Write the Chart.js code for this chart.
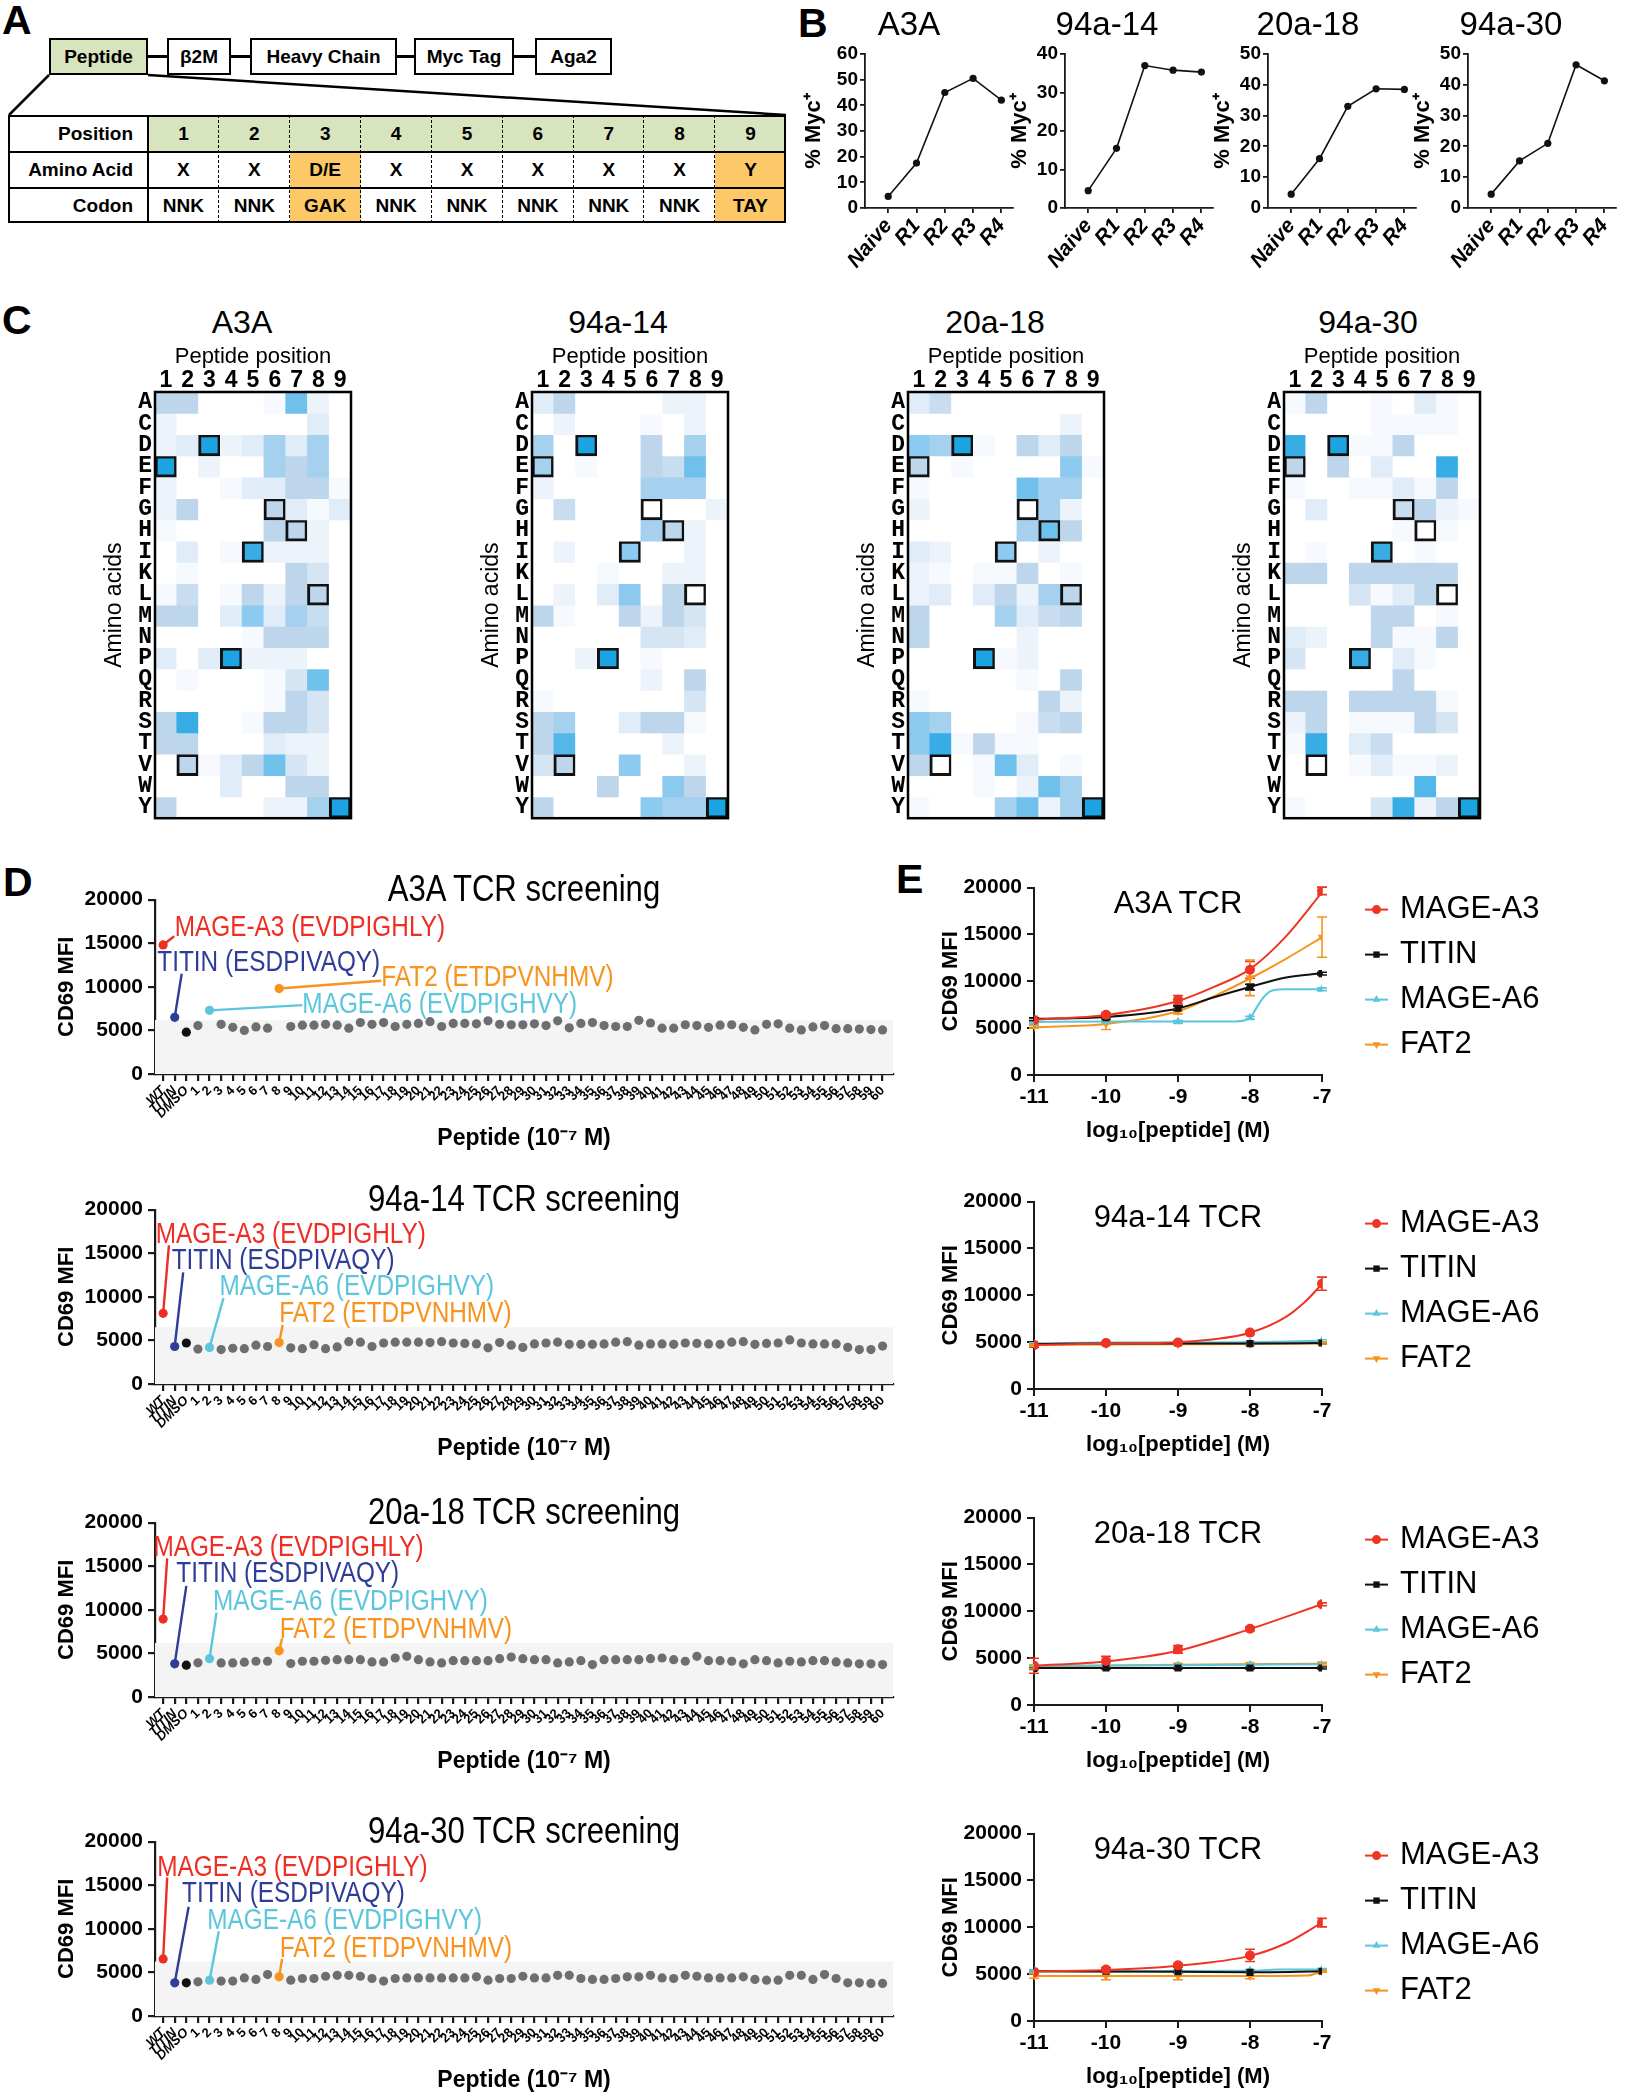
<!DOCTYPE html>
<html>
<head>
<meta charset="utf-8">
<title>TCR peptide library figure</title>
<script src="https://cdn.jsdelivr.net/npm/chart.js@4.4.1/dist/chart.umd.min.js"></script>
<style>
  html, body { margin:0; padding:0; background:#fff; }
  body { width:1626px; height:2100px; position:relative; overflow:hidden; font-family:'Liberation Sans', Arial, sans-serif; color:#000; }
  canvas { position:absolute; }
  .letter { position:absolute; font-weight:bold; font-size:41px; line-height:1; }
  .ttl { position:absolute; transform:translate(-50%,-50%); white-space:nowrap; line-height:1; }
  .abox { position:absolute; box-sizing:border-box; border:2.5px solid #000; background:#fff; display:flex; align-items:center; justify-content:center; font-weight:bold; font-size:19px; }
  .blk { position:absolute; background:#000; }
  .cell { position:absolute; box-sizing:border-box; display:flex; align-items:center; justify-content:center; font-weight:bold; font-size:19px; }
</style>
</head>
<body>
<svg width="800" height="130" style="position:absolute;left:0;top:0">
  <line x1="49" y1="75" x2="9" y2="115" stroke="#000" stroke-width="2.5"/>
  <line x1="148" y1="75" x2="786" y2="115" stroke="#000" stroke-width="2.5"/>
</svg>
<script>
// ======================= DATA =======================
// Panel A
const A_BLOCKS = ['Peptide', 'β2M', 'Heavy Chain', 'Myc Tag', 'Aga2'];
const A_ROW_NAMES = ['Position', 'Amino Acid', 'Codon'];
const A_POSITIONS = ['1','2','3','4','5','6','7','8','9'];
const A_AMINO = ['X','X','D/E','X','X','X','X','X','Y'];
const A_CODON = ['NNK','NNK','GAK','NNK','NNK','NNK','NNK','NNK','TAY'];
const A_FIXED = [false,false,true,false,false,false,false,false,true];

// Panel B (% Myc+ per selection round)
const B_TCRS = ['A3A','94a-14','20a-18','94a-30'];
const B_ROUNDS = ['Naive','R1','R2','R3','R4'];
const B_A3A   = [4.5, 17.5, 45.0, 50.5, 42.0];
const B_94A14 = [4.5, 15.5, 37.0, 35.8, 35.3];
const B_20A18 = [4.5, 16.0, 33.0, 38.7, 38.5];
const B_94A30 = [4.5, 15.3, 21.0, 46.5, 41.3];
const B_YMAX  = [60, 40, 50, 50];
const B_YSTEP = 10;

// Panel C (enrichment level 0-6; rows = amino acids, columns = positions 1-9)
const AMINO = ['A','C','D','E','F','G','H','I','K','L','M','N','P','Q','R','S','T','V','W','Y'];
const POSITIONS = ['1','2','3','4','5','6','7','8','9'];
const WT_PEPTIDE = ['E','V','D','P','I','G','H','L','Y'];
const HM_A3A = [
  [3,3,0,0,0,0.5,4.5,1,0],
  [1,0,0,0,0,0,0,1.5,0],
  [1,1.5,6,1,1.5,3.5,1.5,3.5,0],
  [6,0,1,0,0,3.5,3,3.5,0],
  [1,0,0,0.5,1.5,1.5,3,3,0.5],
  [1,3,0,0,0,3,1.5,0.5,1.5],
  [0.5,0,0,0,0,3,3,1,0],
  [0,1.5,0,0.5,5.5,1,1,1,0],
  [0,0.5,0,0,0,0,3,2,0],
  [0.5,2.5,0,0.5,3,1,3,3,0],
  [3,3,0,1.5,4,1.5,3.5,2.5,0],
  [0,0,0,0,0.5,3,3,3,0],
  [1.5,0,1.5,6,1,1,1,0,0],
  [0,0.5,0,0,0,0.5,2,4.5,0],
  [0,0,0,0,0,0.5,3,2,0],
  [3,5.5,0,0,0.5,3,3,2,0],
  [3,3,0,0,0,1.5,1,1,0],
  [0,3,0.5,1.5,3,4.5,2,1,0],
  [0,0,0,1.5,0,0,3,3,0],
  [3,0,0,0,0,1,1,3.5,6]
];
const HM_94A14 = [
  [1.5,3,0,0,0,0,1,1,0],
  [0,1,0,0,0,0.5,0,1,0],
  [3.5,0,6,0,0,3,0,3.5,0],
  [3.5,0,0.5,0,0,3,2.5,4.5,0],
  [1,0,0,0,0,3.5,3.5,3.5,0],
  [0,2.5,0,0,0,0,0,0,1],
  [0,0,0,0,0,3.5,3,1,0],
  [0,1,0,0,4,0,0,1,0],
  [0,0,0,0.5,0,0,1,1,0],
  [0,1,0,1.5,4,0,3,0,0],
  [3,0.5,0,0,3,1,3,2,0],
  [0,0,0,0,0,2,2,1.5,0],
  [0,0,1,6,0,0.5,0,0,0],
  [0,0,0,0,0,1,0,3,0],
  [0.5,0,0,0,0,0,0,2,0],
  [3,3.5,0,0,1.5,3,3,0.5,0],
  [3,5,0,0,0,0,1,0,0],
  [2,3,0,0,4,0,0,1,0],
  [0,0,0,3,0,0,4,3,0],
  [3,0,0,0,0,4,3.5,3.5,6]
];
const HM_20A18 = [
  [1.5,2.5,0,0,0,0,0,0,0],
  [0,0,0,0,0,0,0,1,0],
  [4,3.5,6,0.5,0,3,1.5,3,0],
  [3,0,0.5,0,0,0,0,4,0.5],
  [0.5,0,0,0,0,4.5,3.5,3.5,0],
  [1,0,0,0,0,0,3.5,1,0],
  [0,0,0,0,0,3.5,4.5,3,0],
  [1.5,1,0,0,4,0,1,0,0],
  [1,0.5,0,0.5,0.5,3,0,0.5,0],
  [1,1.5,0,1.5,3,1,3.5,3,0],
  [3,0,0,0,3.5,1.5,2.5,3,0],
  [3,0,0,0,0,1,0,0,0],
  [0,0,0,6,0.5,1,0,0,0],
  [0,0,0,0,0,0.5,0,3,0],
  [0.5,0,0,0,0,0,3,1,0],
  [4,3.5,0,0,0,0.5,2.5,3,0],
  [4,5.5,0.5,3,0.5,0.5,0,0,0],
  [3,0,0,0.5,4.5,1.5,0,0.5,0],
  [0,0,0,0.5,0,1,4.5,3.5,0],
  [0.5,0,0,0,3.5,4.5,1,3.5,6]
];
const HM_94A30 = [
  [0.5,3,0,0,0.5,0,1.5,0.5,0],
  [0,0,0,0,0.5,0.5,0.5,0.5,0],
  [5.5,0,6,0.5,0.5,3,0,0,0],
  [3,0,3,0,1.5,0,0,5.5,0],
  [0.5,0,0,0.5,0.5,1.5,0.5,3,0],
  [0,1.5,0,0,0,2.5,3,1,0.5],
  [0,0,0,0,0,0.5,0,0.5,0],
  [0,0.5,0,0,5.5,0,0.5,0,0],
  [3,3,0,3,3,3,3,3,0],
  [0,0,0,2,0.5,1.5,3,0,0],
  [0,0,0,0,3,3,0,0.5,0],
  [1.5,1,0,0,3,0.5,0.5,3,0],
  [2,0,0,5.5,0,1.5,0.5,0,0],
  [0,0,0,0,0,3,0,0,0],
  [3,3,0,3,3,3,3,0.5,0],
  [1,3,0,0.5,0.5,0.5,3,2,0],
  [0.5,5.5,0,1.5,2.5,0,0,0,0],
  [0,0,0,0.5,1.5,0.5,0.5,1,0],
  [0,0,0,0,0,0,5,0,0],
  [0.5,0,0,0,2,5.5,1,3,6]
];

// Panel D (CD69 MFI, one value per peptide)
const D_LABELS = ['WT','TITIN','DMSO'].concat(Array.from({length:60}, (_, i) => String(i + 1)));
const D_A3A = [14800,6500,4800,5550,7300,5700,5350,5000,5400,5250,9800,5450,5600,5600,5700,5600,5250,5900,5700,5900,5450,5700,5800,6000,5450,5800,5800,5750,6100,5700,5650,5650,5750,5550,6100,5300,5800,5900,5550,5450,5450,6150,5850,5250,5250,5650,5550,5350,5600,5650,5350,5050,5700,5750,5250,5050,5400,5550,5200,5200,5150,5100,5050];
const D_94A14 = [8100,4300,4700,4000,4200,3950,4100,4050,4450,4300,4750,4150,4050,4500,4050,4250,4850,4800,4300,4700,4800,4800,4800,4750,4850,4700,4650,4600,4150,4750,4450,4200,4600,4700,4800,4550,4550,4550,4600,4800,4850,4450,4600,4600,4550,4700,4650,4600,4550,4800,4850,4550,4650,4700,5050,4700,4600,4600,4600,4200,3950,3950,4350];
const D_20A18 = [8940,3800,3650,3920,4400,3910,3910,3990,4100,4100,5290,3840,4100,4100,4210,4280,4280,4280,4020,4020,4470,4660,4280,4020,3910,4170,4170,4170,4170,4390,4580,4390,4280,4280,3910,4020,4170,3720,4280,4280,4280,4280,4390,4470,4280,4100,4660,4170,4170,4100,3800,4280,4170,3910,4100,4020,4170,4170,4020,3910,3800,3800,3720];
const D_94A30 = [6540,3810,3810,3920,4110,4000,4000,4370,4190,4750,4490,4110,4300,4300,4560,4670,4670,4560,4300,4000,4300,4370,4370,4370,4370,4370,4370,4490,4110,4300,4300,4560,4370,4370,4670,4670,4300,4190,4190,4300,4490,4490,4670,4370,4300,4670,4560,4370,4370,4370,4490,4190,4110,4110,4670,4670,4190,4750,4300,3810,3810,3740,3740];
const D_BAND = [6200, 6500, 6200, 6250];
const D_MARKED_INDEX = [0, 1, 2, 4, 10];
const D_MARKED_NAME = ['MAGE-A3', 'TITIN', 'DMSO', 'MAGE-A6', 'FAT2'];
const D_MARKED_PEPTIDE = ['EVDPIGHLY', 'ESDPIVAQY', '', 'EVDPIGHVY', 'ETDPVNHMV'];
const D_TITLES = ['A3A TCR screening', '94a-14 TCR screening', '20a-18 TCR screening', '94a-30 TCR screening'];

// Panel E (CD69 MFI vs log10 peptide concentration)
const E_X = [-11, -10, -9, -8, -7];
const E_NAMES = ['MAGE-A3', 'TITIN', 'MAGE-A6', 'FAT2'];
const E_TITLES = ['A3A TCR', '94a-14 TCR', '20a-18 TCR', '94a-30 TCR'];
const E1_MAGEA3 = [5840, 6430, 8030, 11230, 19650];
const E1_TITIN  = [5950, 6120, 7130, 9390, 10820];
const E1_MAGEA6 = [5500, 5670, 5670, 6120, 9150];
const E1_FAT2   = [5150, 5500, 6820, 10370, 14710];
const E1_ERR_MAGEA3 = [250, 200, 450, 900, 400];
const E1_ERR_TITIN  = [150, 150, 250, 300, 150];
const E1_ERR_MAGEA6 = [100, 100, 150, 150, 150];
const E1_ERR_FAT2   = [150, 650, 300, 1900, 2150];
const E1_FIT_MAGEA3 = [[-11,5900],[-10,6400],[-9,7900],[-8.5,9400],[-8,11300],[-7.5,14800],[-7,19500]];
const E1_FIT_TITIN  = [[-11,6000],[-10,6200],[-9,7100],[-8.5,8300],[-8,9400],[-7.5,10400],[-7,10850]];
const E1_FIT_MAGEA6 = [[-11,5650],[-10,5700],[-9,5700],[-8.2,5720],[-8,6100],[-7.9,7300],[-7.8,8400],[-7.7,9000],[-7.5,9150],[-7,9150]];
const E1_FIT_FAT2   = [[-11,5100],[-10,5450],[-9,6800],[-8.5,8400],[-8,10300],[-7.5,12400],[-7,14700]];

const E2_MAGEA3 = [4660, 4900, 4970, 6020, 11240];
const E2_TITIN  = [4780, 4900, 4900, 4840, 4900];
const E2_MAGEA6 = [4840, 4970, 4970, 4970, 5150];
const E2_FAT2   = [4660, 4780, 4780, 4840, 4900];
const E2_ERR_MAGEA3 = [200, 150, 150, 200, 700];
const E2_ERR_TITIN  = [100, 100, 100, 100, 100];
const E2_ERR_MAGEA6 = [100, 100, 100, 100, 100];
const E2_ERR_FAT2   = [100, 100, 100, 100, 100];
const E2_FIT_MAGEA3 = [[-11,4700],[-10,4850],[-9,5000],[-8.5,5300],[-8,6000],[-7.5,7700],[-7.25,9200],[-7,11200]];
const E2_FIT_TITIN  = [[-11,4800],[-10,4850],[-9,4850],[-8,4850],[-7,4900]];
const E2_FIT_MAGEA6 = [[-11,4850],[-10,4950],[-9,4950],[-8,5000],[-7,5150]];
const E2_FIT_FAT2   = [[-11,4700],[-10,4750],[-9,4780],[-8,4800],[-7,4850]];

const E3_MAGEA3 = [4190, 4690, 5940, 8130, 10750];
const E3_TITIN  = [3900, 3950, 3950, 3950, 3950];
const E3_MAGEA6 = [4200, 4250, 4250, 4300, 4350];
const E3_FAT2   = [4000, 4200, 4300, 4350, 4400];
const E3_ERR_MAGEA3 = [800, 500, 400, 200, 150];
const E3_ERR_TITIN  = [100, 100, 100, 100, 100];
const E3_ERR_MAGEA6 = [100, 100, 100, 100, 100];
const E3_ERR_FAT2   = [150, 100, 100, 100, 150];
const E3_FIT_MAGEA3 = [[-11,4200],[-10,4650],[-9,5800],[-8,8100],[-7,10750]];
const E3_FIT_TITIN  = [[-11,3950],[-7,3950]];
const E3_FIT_MAGEA6 = [[-11,4200],[-9,4250],[-7,4350]];
const E3_FIT_FAT2   = [[-11,4100],[-9,4300],[-7,4400]];

const E4_MAGEA3 = [5190, 5500, 5940, 7000, 10500];
const E4_TITIN  = [5310, 5310, 5250, 5190, 5310];
const E4_MAGEA6 = [5300, 5350, 5400, 5400, 5500];
const E4_FAT2   = [4810, 4810, 4810, 4810, 5300];
const E4_ERR_MAGEA3 = [150, 200, 200, 650, 450];
const E4_ERR_TITIN  = [100, 100, 100, 100, 100];
const E4_ERR_MAGEA6 = [100, 100, 100, 100, 100];
const E4_ERR_FAT2   = [250, 400, 400, 300, 100];
const E4_FIT_MAGEA3 = [[-11,5300],[-10,5450],[-9,5900],[-8,6950],[-7.5,8300],[-7,10500]];
const E4_FIT_TITIN  = [[-11,5300],[-9,5250],[-8,5200],[-7,5300]];
const E4_FIT_MAGEA6 = [[-11,5300],[-8,5350],[-7.6,5500],[-7,5500]];
const E4_FIT_FAT2   = [[-11,4800],[-8,4800],[-7.2,4850],[-7,5300]];

// ======================= STYLE / LAYOUT =======================
function hasFont(name) {
  const c = document.createElement('canvas').getContext('2d');
  const s = 'abcdefghijklmnopqrstuvwxyz MAGE-A3 0123456789';
  c.font = '40px monospace'; const a = c.measureText(s).width;
  c.font = '40px "' + name + '", monospace'; const b = c.measureText(s).width;
  return Math.abs(a - b) > 1;
}
const FAM = "'Liberation Sans', Arial, Helvetica, sans-serif";
const HAS_NARROW = hasFont('Liberation Sans Narrow');
const NFAM = HAS_NARROW ? "'Liberation Sans Narrow', 'Liberation Sans', sans-serif" : FAM;
const NSCALE = HAS_NARROW ? 1 : 0.84;   // horizontal squeeze that imitates a narrow face
const MONO = "'Liberation Mono', 'DejaVu Sans Mono', monospace";

const GREEN = '#d7e4bd', ORANGE = '#fcc868', AX = '#1a1a1a';
const D_COLORS = { 'MAGE-A3': '#ee2e24', 'TITIN': '#2e3d98', 'DMSO': '#111111', 'MAGE-A6': '#5cc6dc', 'FAT2': '#f7931e' };
const D_GREY = '#6d6e71';
const E_COLORS = ['#ee3524', '#111111', '#5bc6dc', '#f7941d'];
const E_STYLE = ['circle', 'rect', 'triangle', 'triangle'];
const E_ROT = [0, 0, 0, 180];
const HEAT_STOPS = [[0,[255,255,255]],[1,[236,243,250]],[3,[189,214,236]],[4,[140,202,239]],[6,[28,163,226]]];

Chart.defaults.animation = false;
Chart.defaults.responsive = false;
Chart.defaults.maintainAspectRatio = false;
Chart.defaults.font.family = FAM;
Chart.defaults.color = '#000';
Chart.defaults.plugins.legend.display = false;
Chart.defaults.plugins.tooltip.enabled = false;
Chart.defaults.events = [];

function el(tag, cls, css, text) {
  const d = document.createElement(tag);
  if (cls) d.className = cls;
  if (css) d.style.cssText = css;
  if (text != null) d.textContent = text;
  document.body.appendChild(d);
  return d;
}
function ttl(text, cx, cy, size, extra) {
  return el('div', 'ttl', 'left:' + cx + 'px;top:' + cy + 'px;font-size:' + size + 'px;' + (extra || ''), text);
}
function makeCanvas(area, box) {
  const w = box.pl + box.yW + (area.r - area.l) + box.pr;
  const h = box.pt + box.xH + (area.b - area.t) + box.pb;
  const left = area.l - box.yW - box.pl;
  const top = area.t - box.pt - (box.xTop ? box.xH : 0);
  const c = document.createElement('canvas');
  c.width = w; c.height = h;
  c.style.left = left + 'px'; c.style.top = top + 'px';
  c.style.width = w + 'px'; c.style.height = h + 'px';
  document.body.appendChild(c);
  return c;
}
function pad(box) {
  return { padding: { left: box.pl, right: box.pr, top: box.pt, bottom: box.pb }, autoPadding: false };
}
function axisStyle(tl, lw) {
  return {
    grid: { display: true, drawOnChartArea: false, drawTicks: true, tickLength: tl, color: AX, lineWidth: lw || 2 },
    border: { display: true, color: AX, width: lw || 2 }
  };
}
function heatColor(v) {
  const S = HEAT_STOPS;
  for (let i = 1; i < S.length; i++) {
    if (v <= S[i][0]) {
      const a = S[i-1][0], ca = S[i-1][1], b = S[i][0], cb = S[i][1];
      const t = (v - a) / (b - a);
      return 'rgb(' + ca.map((c, j) => Math.round(c + (cb[j] - c) * t)).join(',') + ')';
    }
  }
  return 'rgb(' + S[S.length-1][1].join(',') + ')';
}
function stepTicks(max, step) {
  const out = [];
  for (let v = 0; v <= max + 1e-9; v += step) out.push({ value: v });
  return out;
}

// ---------- plugins ----------
const framePlugin = {
  id: 'frame',
  afterDatasetsDraw(chart) {
    const { ctx, chartArea: a } = chart;
    ctx.save(); ctx.strokeStyle = '#000'; ctx.lineWidth = 2.5;
    ctx.strokeRect(a.left, a.top, a.right - a.left, a.bottom - a.top);
    ctx.restore();
  }
};
const leaderPlugin = {
  id: 'leaders',
  afterDatasetsDraw(chart, args, opts) {
    const { ctx } = chart; const x = chart.scales.x, y = chart.scales.y;
    (opts.items || []).forEach(it => {
      ctx.save();
      ctx.strokeStyle = it.color; ctx.lineWidth = 2.4;
      ctx.beginPath();
      ctx.moveTo(x.getPixelForValue(it.x0), y.getPixelForValue(it.y0));
      ctx.lineTo(x.getPixelForValue(it.x1), y.getPixelForValue(it.y1));
      ctx.stroke();
      ctx.fillStyle = it.color; ctx.font = opts.font; ctx.textBaseline = 'middle'; ctx.textAlign = 'left';
      const tx = x.getPixelForValue(it.tx), ty = y.getPixelForValue(it.ty);
      ctx.translate(tx, ty); ctx.scale(opts.squeeze, 1);
      ctx.fillText(it.text, 0, 0);
      ctx.restore();
    });
  }
};
const errPlugin = {
  id: 'errbars',
  beforeDatasetsDraw(chart) {
    const { ctx } = chart; const ys = chart.scales.y;
    chart.data.datasets.forEach((ds, i) => {
      if (!ds.errs) return;
      const meta = chart.getDatasetMeta(i);
      ctx.save(); ctx.strokeStyle = ds.borderColor; ctx.lineWidth = 1.6;
      meta.data.forEach((pt, j) => {
        const e = ds.errs[j]; if (!e) return;
        const v = ds.data[j].y;
        const y1 = ys.getPixelForValue(v + e), y2 = ys.getPixelForValue(v - e);
        ctx.beginPath();
        ctx.moveTo(pt.x, y1); ctx.lineTo(pt.x, y2);
        ctx.moveTo(pt.x - 5, y1); ctx.lineTo(pt.x + 5, y1);
        ctx.moveTo(pt.x - 5, y2); ctx.lineTo(pt.x + 5, y2);
        ctx.stroke();
      });
      ctx.restore();
    });
  }
};
const eLegendPlugin = {
  id: 'eleg',
  afterDraw(chart, args, o) {
    const { ctx, chartArea: a } = chart;
    E_NAMES.forEach((name, i) => {
      const y = a.top + o.top + i * o.gap, x0 = a.right + o.dx;
      ctx.save();
      ctx.strokeStyle = E_COLORS[i]; ctx.lineWidth = 2;
      ctx.beginPath(); ctx.moveTo(x0, y); ctx.lineTo(x0 + o.len, y); ctx.stroke();
      ctx.fillStyle = E_COLORS[i];
      Chart.helpers.drawPoint(ctx, { pointStyle: E_STYLE[i], radius: 4.5, rotation: E_ROT[i], borderWidth: 0 }, x0 + o.len / 2, y);
      ctx.fillStyle = '#000'; ctx.font = o.size + 'px ' + FAM; ctx.textBaseline = 'middle';
      ctx.fillText(name, x0 + o.len + o.tgap, y);
      ctx.restore();
    });
  }
};

// ======================= PANEL LETTERS =======================
el('div', 'letter', 'left:2px;top:0px;', 'A');
el('div', 'letter', 'left:798px;top:3px;', 'B');
el('div', 'letter', 'left:2px;top:300px;', 'C');
el('div', 'letter', 'left:3px;top:862px;', 'D');
el('div', 'letter', 'left:896px;top:859px;', 'E');

// ======================= PANEL A =======================
const A_BOX_X = [[49,148],[167,231],[250,397],[414,514],[535,612]];
A_BOX_X.forEach((bx, i) => {
  el('div', 'abox', 'left:' + bx[0] + 'px;top:38px;width:' + (bx[1]-bx[0]) + 'px;height:37px;' + (i === 0 ? 'background:' + GREEN + ';' : ''), A_BLOCKS[i]);
  if (i > 0) {
    const px = A_BOX_X[i-1][1];
    el('div', 'blk', 'left:' + px + 'px;top:55px;width:' + (bx[0]-px) + 'px;height:2.5px;');
  }
});
(function () {
  const T = { l: 8, r: 786, t: 115, rowH: [37, 36, 35], labR: 148 };
  const colW = (T.r - T.labR) / 9;
  let y = T.t;
  [A_POSITIONS, A_AMINO, A_CODON].forEach((row, ri) => {
    const h = T.rowH[ri];
    el('div', 'cell', 'left:' + T.l + 'px;top:' + y + 'px;width:' + (T.labR - T.l) + 'px;height:' + h + 'px;justify-content:flex-end;padding-right:15px;', A_ROW_NAMES[ri]);
    row.forEach((txt, ci) => {
      const bg = ri === 0 ? GREEN : (A_FIXED[ci] ? ORANGE : '#fff');
      el('div', 'cell', 'left:' + (T.labR + ci * colW) + 'px;top:' + y + 'px;width:' + colW + 'px;height:' + h + 'px;background:' + bg + ';', txt);
    });
    y += h;
  });
  const H = y - T.t;
  for (let k = 1; k < 9; k++) {
    el('div', '', 'position:absolute;left:' + (T.labR + k * colW - 0.75) + 'px;top:' + T.t + 'px;width:0;height:' + H + 'px;border-left:1.5px dashed #000;');
  }
  let yy = T.t;
  for (let r = 0; r < 2; r++) { yy += T.rowH[r]; el('div', 'blk', 'left:' + T.l + 'px;top:' + (yy - 1.25) + 'px;width:' + (T.r - T.l) + 'px;height:2.5px;'); }
  el('div', 'blk', 'left:' + (T.labR - 1.25) + 'px;top:' + T.t + 'px;width:2.5px;height:' + H + 'px;');
  el('div', '', 'position:absolute;box-sizing:border-box;left:' + T.l + 'px;top:' + T.t + 'px;width:' + (T.r - T.l) + 'px;height:' + H + 'px;border:2.5px solid #000;');
})();

// ======================= PANEL B =======================
const B_SERIES = [B_A3A, B_94A14, B_20A18, B_94A30];
const B_AREA_X = [[865,1018],[1065,1218],[1268,1421],[1468,1621]];
const B_YW = [64, 58, 58, 58];
const B_TITLE_X = [909, 1107, 1308, 1511];
B_SERIES.forEach((vals, i) => {
  const area = { l: B_AREA_X[i][0], r: B_AREA_X[i][1], t: 54, b: 208 };
  const box = { yW: B_YW[i], xH: 64, pl: 2, pr: 4, pt: 14, pb: 2 };
  const cv = makeCanvas(area, box);
  new Chart(cv, {
    type: 'line',
    data: { datasets: [{ data: vals.map((v, k) => ({ x: k, y: v })), borderColor: '#111', borderWidth: 1.6, pointRadius: 3.6, pointBackgroundColor: '#111', pointBorderWidth: 0 }] },
    options: {
      layout: pad(box),
      scales: {
        x: Object.assign({ type: 'linear', min: -0.82, max: 4.4,
          afterBuildTicks: s => { s.ticks = B_ROUNDS.map((_, k) => ({ value: k })); },
          afterFit: s => { s.height = box.xH; },
          ticks: { autoSkip: false, minRotation: 50, maxRotation: 50, padding: 1, font: { size: 21, weight: 'bold', style: 'italic' }, callback: v => B_ROUNDS[v] }
        }, axisStyle(5, 1.8)),
        y: Object.assign({ type: 'linear', min: 0, max: B_YMAX[i],
          afterFit: s => { s.width = box.yW; },
          afterBuildTicks: s => { s.ticks = stepTicks(B_YMAX[i], B_YSTEP); },
          ticks: { autoSkip: false, padding: 2, font: { size: 19, weight: 'bold' }, callback: v => String(v) },
          title: { display: true, text: '% Myc⁺', padding: 0, font: { size: 22, weight: 'bold' } }
        }, axisStyle(5, 1.8))
      }
    }
  });
  ttl(B_TCRS[i], B_TITLE_X[i], 23, 33);
});

// ======================= PANEL C =======================
const HM = [HM_A3A, HM_94A14, HM_20A18, HM_94A30];
const C_AREA_X = [[155,351],[532,728],[908,1104],[1284,1480]];
const C_TITLE_X = [242, 618, 995, 1368];
HM.forEach((grid, k) => {
  const area = { l: C_AREA_X[k][0], r: C_AREA_X[k][1], t: 392, b: 831 };
  const box = { yW: 54, xH: 48, xTop: true, pl: 2, pr: 4, pt: 2, pb: 4 };
  const cv = makeCanvas(area, box);
  const datasets = AMINO.map((aa, r) => ({
    label: aa,
    data: POSITIONS.map(() => 1),
    backgroundColor: POSITIONS.map((_, c) => heatColor(grid[r][c])),
    borderColor: POSITIONS.map((_, c) => WT_PEPTIDE[c] === aa ? '#111' : 'rgba(0,0,0,0)'),
    borderWidth: POSITIONS.map((_, c) => WT_PEPTIDE[c] === aa ? 3 : 0),
    borderSkipped: false,
    barPercentage: 1, categoryPercentage: 1
  }));
  new Chart(cv, {
    type: 'bar',
    data: { labels: POSITIONS, datasets },
    options: {
      layout: pad(box),
      scales: {
        x: { position: 'top', stacked: true, offset: true,
          grid: { display: false, drawTicks: false }, border: { display: false },
          afterFit: s => { s.height = box.xH; },
          ticks: { padding: -2, font: { size: 23, weight: 'bold' } },
          title: { display: true, text: 'Peptide position', padding: 0, font: { size: 22 } } },
        y: { type: 'linear', stacked: true, reverse: true, min: 0, max: 20,
          grid: { display: false, drawTicks: false }, border: { display: false },
          afterFit: s => { s.width = box.yW; },
          afterBuildTicks: s => { s.ticks = AMINO.map((_, i) => ({ value: i + 0.5 })); },
          ticks: { autoSkip: false, padding: 3, font: { family: MONO, size: 23, weight: 'bold' }, callback: v => AMINO[Math.floor(v)] },
          title: { display: true, text: 'Amino acids', padding: 0, font: { size: 23 } } }
      }
    },
    plugins: [framePlugin]
  });
  ttl(B_TCRS[k], C_TITLE_X[k], 322, 32);
});

// ======================= PANEL D =======================
const D_SERIES = [D_A3A, D_94A14, D_20A18, D_94A30];
const D_AREA_T = [896, 1206, 1519, 1838];
const D_XMIN = -0.7, D_XMAX = 62.9;
// annotation layout per chart: name -> [textX, textY, leaderEndX, leaderEndY] (data units)
const D_ANN_LAYOUT = [
  { 'MAGE-A3': [1.0, 16700, 0.95, 15800], 'TITIN': [-0.5, 12700, 1.6, 11500], 'MAGE-A6': [12.0, 7900, 12.0, 7900], 'FAT2': [18.8, 11000, 18.8, 10700] },
  { 'MAGE-A3': [-0.64, 17100, 0.5, 15900], 'TITIN': [0.74, 14130, 1.73, 12800], 'MAGE-A6': [4.85, 11080, 5.2, 9850], 'FAT2': [10.0, 8000, 10.3, 6770] },
  { 'MAGE-A3': [-0.84, 17130, 0.35, 15900], 'TITIN': [1.14, 14080, 2.0, 12740], 'MAGE-A6': [4.3, 10910, 4.6, 9680], 'FAT2': [10.05, 7710, 10.25, 6700] },
  { 'MAGE-A3': [-0.5, 17010, 0.35, 15890], 'TITIN': [1.63, 14020, 2.2, 12520], 'MAGE-A6': [3.8, 10920, 4.8, 9720], 'FAT2': [10.05, 7660, 10.25, 6540] }
];
function dPointColor(i) {
  const m = D_MARKED_INDEX.indexOf(i);
  return m >= 0 ? D_COLORS[D_MARKED_NAME[m]] : D_GREY;
}
D_SERIES.forEach((vals, k) => {
  const area = { l: 155, r: 893, t: D_AREA_T[k], b: D_AREA_T[k] + 178 };
  const box = { yW: 101, xH: 78, pl: 4, pr: 8, pt: 14, pb: 6 };
  const cv = makeCanvas(area, box);
  const items = [];
  D_MARKED_NAME.forEach((name, m) => {
    const lay = D_ANN_LAYOUT[k][name];
    if (!lay) return;
    const idx = D_MARKED_INDEX[m];
    items.push({ text: name + ' (' + D_MARKED_PEPTIDE[m] + ')', color: D_COLORS[name], x0: idx, y0: vals[idx], x1: lay[2], y1: lay[3], tx: lay[0], ty: lay[1] });
  });
  new Chart(cv, {
    type: 'line',
    data: { datasets: [
      { data: vals.map((v, i) => ({ x: i, y: v })), showLine: false, pointRadius: 4.6, pointBackgroundColor: vals.map((_, i) => dPointColor(i)), pointBorderWidth: 0, order: 0 },
      { data: [{ x: D_XMIN, y: D_BAND[k] }, { x: D_XMAX, y: D_BAND[k] }], fill: 'origin', backgroundColor: '#f4f4f4', borderWidth: 0, pointRadius: 0, order: 5 }
    ] },
    options: {
      layout: pad(box),
      scales: {
        x: Object.assign({ type: 'linear', min: D_XMIN, max: D_XMAX,
          afterBuildTicks: s => { s.ticks = D_LABELS.map((_, i) => ({ value: i })); },
          afterFit: s => { s.height = box.xH; },
          ticks: { autoSkip: false, minRotation: 45, maxRotation: 45, padding: 2,
            font: c => ({ size: 13, weight: 'bold', style: c.index < 3 ? 'italic' : 'normal' }),
            callback: v => D_LABELS[v] },
          title: { display: true, text: 'Peptide (10⁻⁷ M)', padding: 0, font: { size: 23, weight: 'bold' } }
        }, axisStyle(7, 2.2)),
        y: Object.assign({ type: 'linear', min: 0, max: 20000,
          afterFit: s => { s.width = box.yW; },
          afterBuildTicks: s => { s.ticks = stepTicks(20000, 5000); },
          ticks: { padding: 5, font: { size: 21, weight: 'bold' }, callback: v => String(v) },
          title: { display: true, text: 'CD69 MFI', padding: 0, font: { size: 22, weight: 'bold' } }
        }, axisStyle(7, 2.2))
      },
      plugins: { leaders: { items: items, font: '29px ' + NFAM, squeeze: NSCALE } }
    },
    plugins: [leaderPlugin]
  });
  ttl(D_TITLES[k], 524, D_AREA_T[k] - 8, 37, 'font-family:' + NFAM + ';transform:translate(-50%,-50%) scaleX(' + NSCALE + ');');
});

// ======================= PANEL E =======================
const E_PTS = [[E1_MAGEA3, E1_TITIN, E1_MAGEA6, E1_FAT2], [E2_MAGEA3, E2_TITIN, E2_MAGEA6, E2_FAT2], [E3_MAGEA3, E3_TITIN, E3_MAGEA6, E3_FAT2], [E4_MAGEA3, E4_TITIN, E4_MAGEA6, E4_FAT2]];
const E_ERR = [[E1_ERR_MAGEA3, E1_ERR_TITIN, E1_ERR_MAGEA6, E1_ERR_FAT2], [E2_ERR_MAGEA3, E2_ERR_TITIN, E2_ERR_MAGEA6, E2_ERR_FAT2], [E3_ERR_MAGEA3, E3_ERR_TITIN, E3_ERR_MAGEA6, E3_ERR_FAT2], [E4_ERR_MAGEA3, E4_ERR_TITIN, E4_ERR_MAGEA6, E4_ERR_FAT2]];
const E_FIT = [[E1_FIT_MAGEA3, E1_FIT_TITIN, E1_FIT_MAGEA6, E1_FIT_FAT2], [E2_FIT_MAGEA3, E2_FIT_TITIN, E2_FIT_MAGEA6, E2_FIT_FAT2], [E3_FIT_MAGEA3, E3_FIT_TITIN, E3_FIT_MAGEA6, E3_FIT_FAT2], [E4_FIT_MAGEA3, E4_FIT_TITIN, E4_FIT_MAGEA6, E4_FIT_FAT2]];
const E_AREA_T = [884, 1198, 1514, 1830];
E_PTS.forEach((series, k) => {
  const area = { l: 1034, r: 1322, t: E_AREA_T[k], b: E_AREA_T[k] + 191 };
  const box = { yW: 96, xH: 69, pl: 4, pr: 300, pt: 14, pb: 4 };
  const cv = makeCanvas(area, box);
  const pointSets = series.map((vals, s) => ({
    data: E_X.map((x, j) => ({ x: x, y: vals[j] })), errs: E_ERR[k][s], showLine: false,
    pointStyle: E_STYLE[s], pointRotation: E_ROT[s], pointRadius: 5, pointBackgroundColor: E_COLORS[s], pointBorderWidth: 0, borderColor: E_COLORS[s]
  }));
  const fitSets = E_FIT[k].map((pts, s) => ({
    data: pts.map(p => ({ x: p[0], y: p[1] })), borderColor: E_COLORS[s], borderWidth: 2, pointRadius: 0, cubicInterpolationMode: 'monotone', fill: false
  }));
  new Chart(cv, {
    type: 'line',
    data: { datasets: pointSets.concat(fitSets) },
    options: {
      layout: pad(box),
      scales: {
        x: Object.assign({ type: 'linear', min: -11, max: -7,
          afterFit: s => { s.height = box.xH; },
          afterBuildTicks: s => { s.ticks = E_X.map(v => ({ value: v })); },
          ticks: { padding: 3, font: { size: 21, weight: 'bold' } },
          title: { display: true, text: 'log₁₀[peptide] (M)', padding: 0, font: { size: 22, weight: 'bold' } }
        }, axisStyle(7, 2)),
        y: Object.assign({ type: 'linear', min: 0, max: 20000,
          afterFit: s => { s.width = box.yW; },
          afterBuildTicks: s => { s.ticks = stepTicks(20000, 5000); },
          ticks: { padding: 5, font: { size: 21, weight: 'bold' }, callback: v => String(v) },
          title: { display: true, text: 'CD69 MFI', padding: 0, font: { size: 22, weight: 'bold' } }
        }, axisStyle(7, 2))
      },
      plugins: { eleg: { dx: 43, len: 23, top: 22, gap: 45, tgap: 12, size: 31 } }
    },
    plugins: [errPlugin, eLegendPlugin]
  });
  ttl(E_TITLES[k], 1178, E_AREA_T[k] + 18, 31);
});
</script>
</body>
</html>
